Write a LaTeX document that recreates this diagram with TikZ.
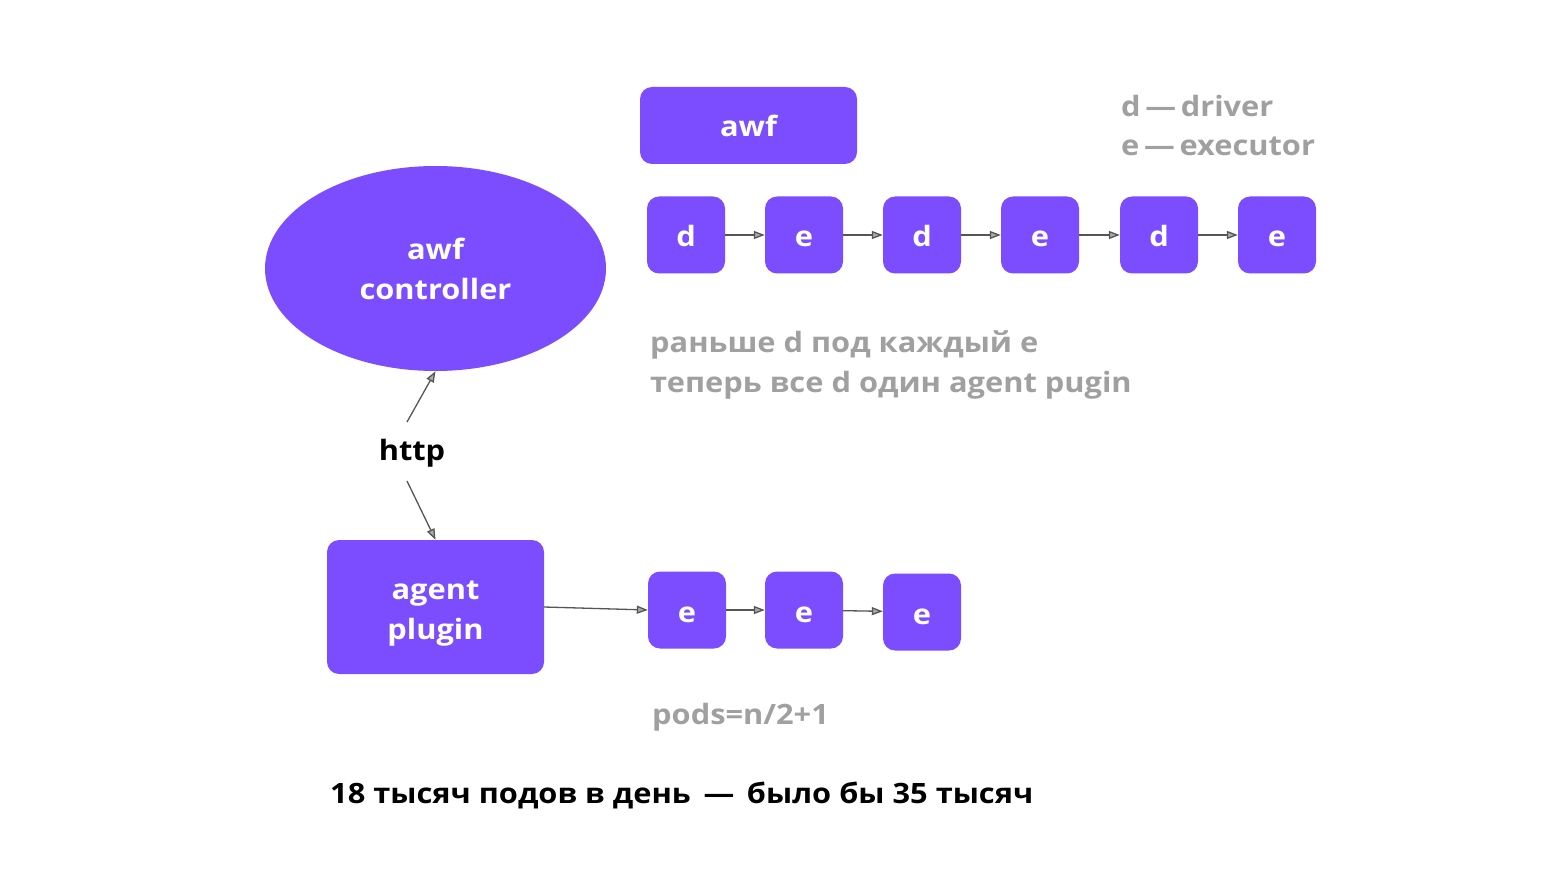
\documentclass[tikz,border=0pt]{standalone}
\usepackage{fontspec}
\setmainfont{Open Sans}[UprightFont=* Bold,FakeStretch=1.1]
\usetikzlibrary{arrows.meta,shapes.geometric}
\definecolor{vio}{RGB}{124,77,255}
\definecolor{txtgray}{RGB}{160,160,160}
\definecolor{arr}{RGB}{85,85,85}
\newcommand{\fs}{\fontsize{28}{40}\selectfont}
\tikzset{
  x=1pt,y=-1pt,
  pbox/.style={fill=vio,draw=none,rounded corners=12pt,text=white,font=\fs,align=center,inner sep=0pt},
  small/.style={pbox,minimum width=78pt,minimum height=77pt,text height=24pt,text depth=0pt},
  conn/.style={draw=arr,line width=1.3pt,-{Triangle[length=11pt,width=8pt,fill=arr!50]}},
  gtext/.style={text=txtgray,font=\fs,anchor=west,inner sep=0pt,align=left},
}
\begin{document}
\begin{tikzpicture}
\useasboundingbox (0,0) rectangle (1560,877);
\node[pbox,minimum width=217pt,minimum height=77pt] (awf) at (748.5,125.5) {awf};
\node[ellipse,fill=vio,text=white,minimum width=341pt,minimum height=205pt,inner sep=0pt,font=\fs,align=center] (ctrl) at (435.5,268.5) {awf\\controller};
\node[small] (d1) at (686,235) {d};
\node[small] (e1) at (804,235) {e};
\node[small] (d2) at (922,235) {d};
\node[small] (e2) at (1040,235) {e};
\node[small] (d3) at (1159,235) {d};
\node[small] (e3) at (1277,235) {e};
\draw[conn] (d1) -- (e1);
\draw[conn] (e1) -- (d2);
\draw[conn] (d2) -- (e2);
\draw[conn] (e2) -- (d3);
\draw[conn] (d3) -- (e3);
\node[gtext] (leg1) at (1121,106) {d\,—\,driver};
\node[gtext] (leg2) at (1121,146) {e\,—\,executor};
\node[gtext] (note1) at (650,345) {раньше d под каждый е};
\node[gtext] (note2) at (650,385) {теперь все d один agent pugin};
\node[font=\fs,inner sep=0pt] (http) at (412,453) {http};
\node[pbox,minimum width=217pt,minimum height=134pt,label={[font=\fs,text=white,align=center,yshift=-7pt]center:agent\\plugin}] (agent) at (435.5,607) {};
\coordinate (h1) at (407,422);
\coordinate (h2) at (407,481);
\draw[conn] (h1) -- (ctrl.south);
\draw[conn] (h2) -- (agent.north);
\node[small] (f1) at (687,610) {e};
\node[small] (f2) at (804,610) {e};
\node[small] (f3) at (922,612) {e};
\draw[conn] (agent.east) -- (f1.west);
\draw[conn] (f1) -- (f2);
\draw[conn] (f2) -- (f3);
\node[gtext] (pods) at (652,717) {pods=n/2+1};
\node[font=\fs,anchor=west,inner sep=0pt] (bottom) at (330,795) {18 тысяч подов в день \,—\, было бы 35 тысяч};
\end{tikzpicture}
\end{document}
